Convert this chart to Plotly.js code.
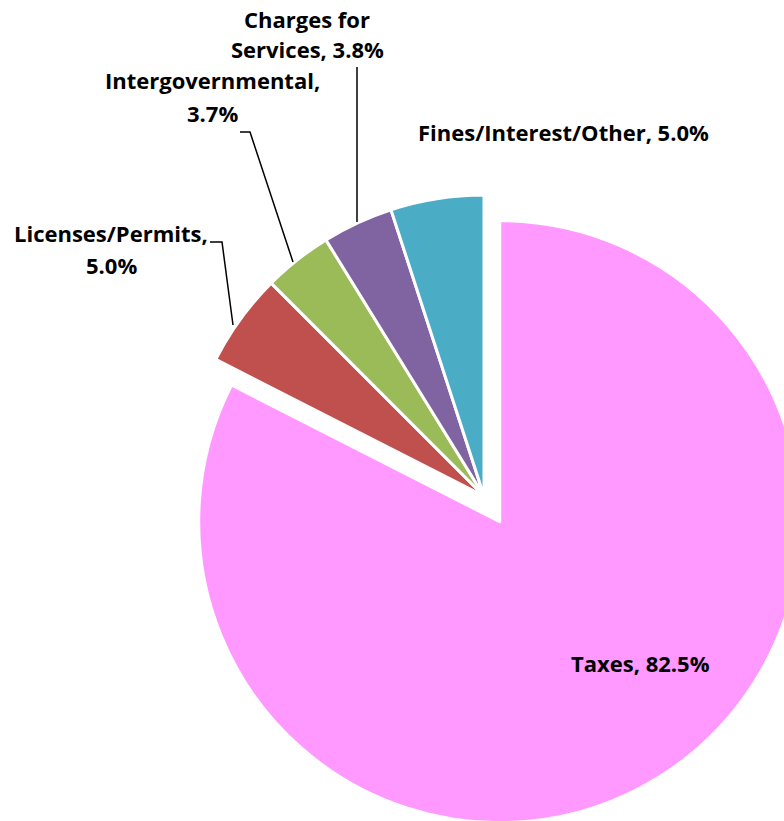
<!DOCTYPE html>
<html>
<head>
<meta charset="utf-8">
<script src="https://cdn.plot.ly/plotly-3.0.1.min.js"></script>
<style>
  html, body { margin: 0; padding: 0; overflow: hidden; background: #fff; }
  #chart { width: 830px; height: 830px; }
</style>
</head>
<body>
<div id="chart"></div>
<script>
// ---- data ----
const categories = ['Taxes', 'Licenses/Permits', 'Intergovernmental', 'Charges for Services', 'Fines/Interest/Other'];
const values = [82.5, 5.0, 3.7, 3.8, 5.0];
const colors = ['#FF99FF', '#C0504D', '#9BBB59', '#8064A2', '#4BACC6'];

// ---- layout helpers (pixel -> paper) ----
const W = 830, H = 830;
const xp = px => px / W;
const yp = py => 1 - py / H;

// pie geometry (unpulled centre & radius in px), pull for Taxes
const cx = 484, cy = 496, r = 301, pull = 0.1;
const half = r * (1 + pull);

// label layout: centre of first line, line gap, words on first line
const labelPos = [
  { x: 640, y: 663, firstWords: 99 },
  { x: 111, y: 233, firstWords: 1, gap: 32 },
  { x: 212, y: 80, firstWords: 1, gap: 33 },
  { x: 307, y: 19, firstWords: 2, gap: 30 },
  { x: 563, y: 132, firstWords: 99 }
];

const font = { family: '"Open Sans", Lato, sans-serif', size: 22, color: '#000', weight: 'bold' };

const annotations = [];
categories.forEach((c, i) => {
  const full = c + ', ' + values[i].toFixed(1) + '%';
  const words = full.split(' ');
  const p = labelPos[i];
  const lines = [words.slice(0, p.firstWords).join(' ')];
  if (p.firstWords < words.length) lines.push(words.slice(p.firstWords).join(' '));
  lines.forEach((t, k) => {
    annotations.push({
      text: t, xref: 'paper', yref: 'paper',
      x: xp(p.x), y: yp(p.y + k * (p.gap || 0)),
      xanchor: 'center', yanchor: 'middle', showarrow: false, font: font
    });
  });
});

// leader lines (px polylines)
const leaders = [
  [[210, 242], [222, 242], [233, 325]],
  [[240, 132], [250, 132], [293, 262]],
  [[357, 67], [357, 222]]
];
const shapes = leaders.map(pts => ({
  type: 'path', xref: 'paper', yref: 'paper',
  path: pts.map((p, k) => (k ? 'L' : 'M') + xp(p[0]) + ',' + yp(p[1])).join(' '),
  line: { color: '#000', width: 1.5 }
}));

const trace = {
  type: 'pie',
  labels: categories,
  values: values,
  sort: false,
  direction: 'clockwise',
  rotation: 0,
  pull: [pull, 0, 0, 0, 0],
  textinfo: 'none',
  hoverinfo: 'label+percent',
  marker: { colors: colors, line: { color: '#FFFFFF', width: 3 } },
  domain: { x: [xp(cx - half), xp(cx + half)], y: [yp(cy + half), yp(cy - half)] },
  showlegend: false
};

const layout = {
  width: W, height: H,
  margin: { l: 0, r: 0, t: 0, b: 0 },
  paper_bgcolor: '#fff',
  showlegend: false,
  annotations: annotations,
  shapes: shapes
};

Plotly.newPlot('chart', [trace], layout, { displayModeBar: false, staticPlot: true });
</script>
</body>
</html>
